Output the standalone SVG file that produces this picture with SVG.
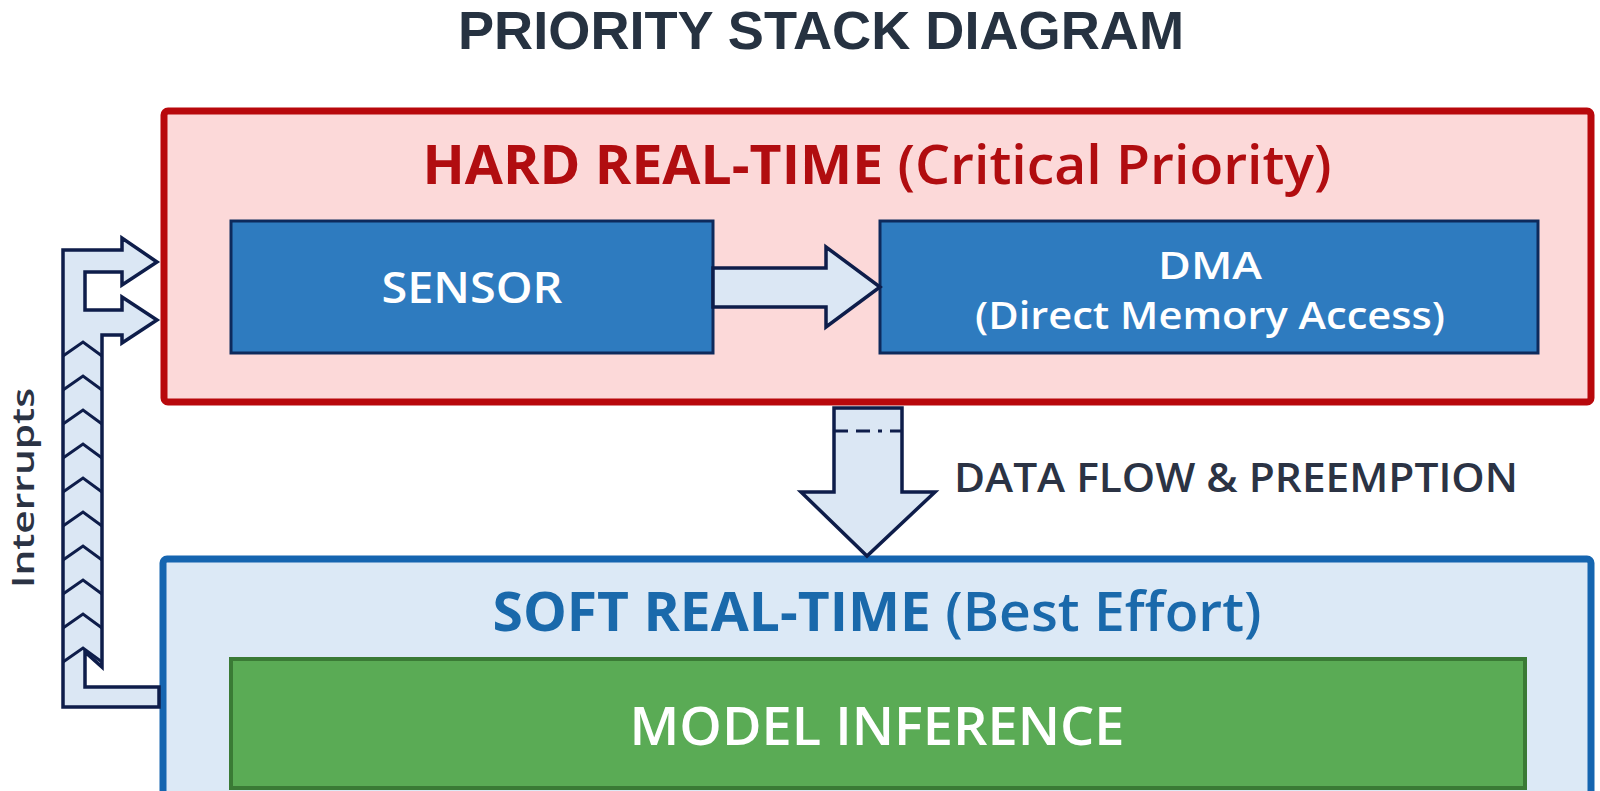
<svg xmlns="http://www.w3.org/2000/svg" width="1600" height="791" viewBox="0 0 1600 791">
<defs>
<style>
.t{font-family:"Open Sans","Liberation Sans",sans-serif;text-anchor:middle}
.ttl{font-family:"Liberation Sans","Open Sans",sans-serif;font-weight:700;text-anchor:middle}
.b{font-weight:700}
.s{font-weight:600}
.arrow{fill:#dbe7f4;stroke:#0e1d4a;stroke-width:3.5;stroke-linejoin:miter}
.chev{fill:none;stroke:#0e1d4a;stroke-width:3}
.blk{fill:#2e7bbf;stroke:#0d2a5c;stroke-width:3}
</style>
</defs>
<rect width="1600" height="791" fill="#ffffff"/>
<text class="ttl" x="821" y="49" font-size="54" fill="#263241" textLength="726" lengthAdjust="spacingAndGlyphs">PRIORITY STACK DIAGRAM</text>

<g id="hard-rt">
<rect x="164" y="111" width="1427" height="291" rx="4" fill="#fcd9d9" stroke="#b8080c" stroke-width="7"/>
<text class="t b" x="877" y="184" font-size="54" fill="#b10d10" textLength="909" lengthAdjust="spacingAndGlyphs">HARD REAL-TIME <tspan class="s">(Critical Priority)</tspan></text>
</g>

<g id="sensor">
<rect class="blk" x="231" y="221" width="482" height="132"/>
<text class="t s" x="472" y="303" font-size="43" fill="#ffffff" textLength="181" lengthAdjust="spacingAndGlyphs">SENSOR</text>
</g>

<g id="dma">
<rect class="blk" x="880" y="221" width="658" height="132"/>
<text class="t s" x="1210" y="279" font-size="37" fill="#ffffff" textLength="104" lengthAdjust="spacingAndGlyphs">DMA</text>
<text class="t s" x="1210" y="329" font-size="37" fill="#ffffff" textLength="470" lengthAdjust="spacingAndGlyphs">(Direct Memory Access)</text>
</g>

<g id="soft-rt">
<rect x="163" y="559" width="1428" height="250" rx="4" fill="#dce9f6" stroke="#1565b0" stroke-width="7"/>
<text class="t b" x="877" y="631" font-size="54" fill="#1a69ab" textLength="769" lengthAdjust="spacingAndGlyphs">SOFT REAL-TIME <tspan class="s">(Best Effort)</tspan></text>
</g>

<g id="model-inference">
<rect x="231" y="659" width="1294" height="129" fill="#5aab55" stroke="#3a7a35" stroke-width="4"/>
<text class="t s" x="877" y="745" font-size="52" fill="#ffffff" textLength="495" lengthAdjust="spacingAndGlyphs">MODEL INFERENCE</text>
</g>

<g id="connectors">
<polygon class="arrow" points="713,268 826,268 826,247 880,287 826,327 826,307 713,307"/>
<g id="data-flow">
<polygon class="arrow" points="834,408 902,408 902,492 935,492 867,556 801,492 834,492"/>
<line x1="834" y1="431" x2="902" y2="431" stroke="#0e1d4a" stroke-width="3" stroke-dasharray="14 8 14 8 4 8"/>
<text class="t s" x="1236" y="492" font-size="40" fill="#2b3344" textLength="564" lengthAdjust="spacingAndGlyphs">DATA FLOW &amp; PREEMPTION</text>
</g>
<g id="interrupts">
<polygon class="arrow" points="63,250 122,250 122,238 157,262 122,285 122,272 85,272 85,310 122,310 122,297 157,320 122,343 122,335 102,335 102,667 85,652 85,687 159,687 159,707 63,707"/>
<g class="chev">
<polyline points="63,356 83,342 102,356"/>
<polyline points="63,390 83,376 102,390"/>
<polyline points="63,424 83,410 102,424"/>
<polyline points="63,458 83,444 102,458"/>
<polyline points="63,492 83,478 102,492"/>
<polyline points="63,526 83,512 102,526"/>
<polyline points="63,560 83,546 102,560"/>
<polyline points="63,594 83,580 102,594"/>
<polyline points="63,628 83,614 102,628"/>
<polyline points="63,662 83,648 102,662"/>
</g>
<text class="t s" transform="translate(34,488) rotate(-90)" font-size="31" fill="#2b3344" textLength="200" lengthAdjust="spacingAndGlyphs">Interrupts</text>
</g>
</g>
</svg>
